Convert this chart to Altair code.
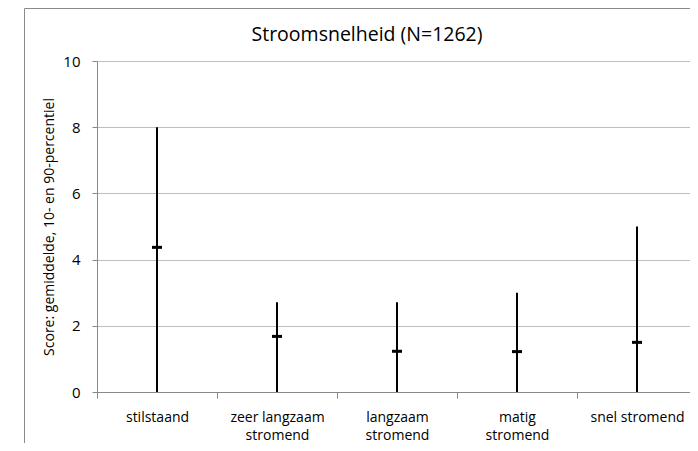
import altair as alt
import pandas as pd

categories = ["stilstaand", "zeer langzaam\nstromend", "langzaam\nstromend", "matig\nstromend", "snel stromend"]
mean = [4.37, 1.68, 1.23, 1.22, 1.50]
p10 = [0.0, 0.0, 0.0, 0.0, 0.0]
p90 = [8.0, 2.71, 2.71, 3.0, 5.0]
y_ticks = [0, 2, 4, 6, 8, 10]
title_text = "Stroomsnelheid (N=1262)"
y_title = "Score: gemiddelde, 10- en 90-percentiel"

df = pd.DataFrame({"cat": categories, "mean": mean, "lo": p10, "hi": p90})

FONT = "Open Sans"
AX = "#898989"

x_enc = alt.X(
    "cat:N",
    sort=categories,
    scale=alt.Scale(paddingInner=0, paddingOuter=0, range=[0, 600]),
    axis=alt.Axis(
        title=None, labelAngle=0, tickBand="extent", grid=False,
        labelExpr="split(datum.label, '\\n')", labelLineHeight=18,
        labelPadding=12, tickSize=6, labelFontSize=14, labelFont=FONT,
        labelColor="black", domainColor=AX, tickColor=AX,
    ),
)
y_scale = alt.Scale(domain=[0, 10], nice=False, zero=True)
y_axis = alt.Axis(
    values=y_ticks, title=y_title, titleFont=FONT, titleFontSize=14,
    titleFontWeight="normal", titleColor="black", titleX=-48, titleY=165.5,
    titleAngle=270, titleAlign="center", titleBaseline="middle",
    grid=True, gridColor="#bfbfbf", domainColor=AX, tickColor=AX,
    tickSize=5, labelPadding=12, labelFontSize=15, labelFont=FONT,
    labelColor="black",
)

base = alt.Chart(df)
rules = base.mark_rule(color="black", strokeWidth=2).encode(
    x=x_enc,
    y=alt.Y("lo:Q", scale=y_scale, axis=y_axis),
    y2="hi:Q",
)
ticks = base.mark_tick(color="black", opacity=1, orient="horizontal",
                       size=10, thickness=3).encode(
    x=alt.X("cat:N", sort=categories),
    y=alt.Y("mean:Q", scale=y_scale),
)

one = alt.Chart(pd.DataFrame({"t": [title_text]}))
border = one.mark_rect(fill=None, stroke="#8a8a8a", strokeWidth=1).encode(
    x=alt.value(-72.5), x2=alt.value(700), y=alt.value(-52.5), y2=alt.value(420)
)
title = one.mark_text(font=FONT, fontSize=19.5, color="black", align="center",
                      baseline="alphabetic").encode(
    x=alt.value(270), y=alt.value(-20), text="t:N"
)

chart = alt.layer(border, rules, ticks, title).properties(
    width=593, height=331,
    autosize=alt.AutoSizeParams(type="none"),
    padding={"left": 89, "top": 53, "right": 0, "bottom": 51},
).configure_view(stroke=None)

chart.save("out.html", embed_options={"renderer": "svg", "actions": False})
